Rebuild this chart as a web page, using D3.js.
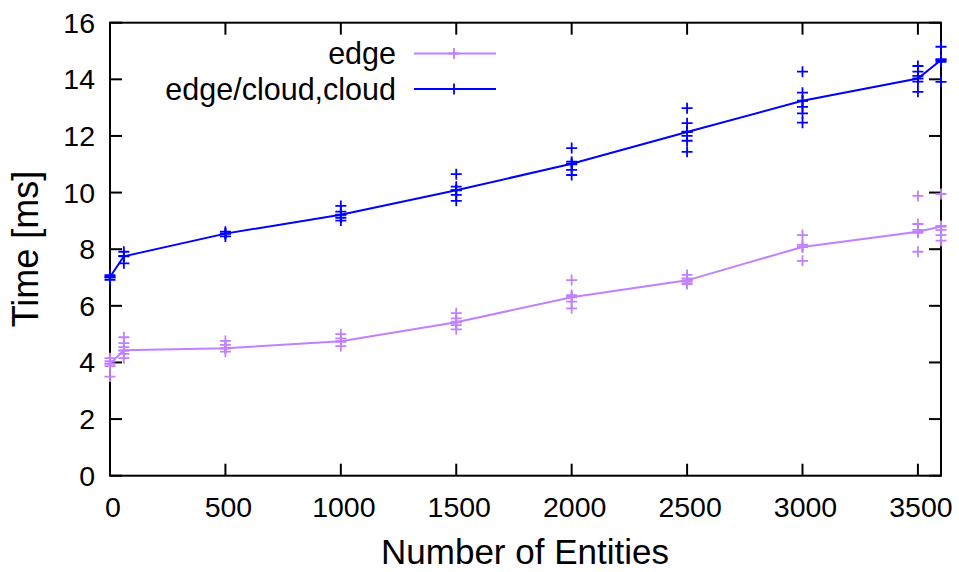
<!DOCTYPE html>
<html>
<head>
    <meta charset="utf-8">
    <title>Time vs Number of Entities</title>
    <script type="text/javascript" src="https://cdn.jsdelivr.net/npm/d3@7"></script>

    <style type="text/css">
        html, body {
            margin: 0;
            background: #fff;
        }

        svg text {
            font-family: "Liberation Sans", Arial, sans-serif;
            fill: #000;
        }

        .frame {
            fill: none;
            stroke: #000;
            stroke-width: 2;
        }

        .tick-mark {
            stroke: #000;
            stroke-width: 2;
        }
    </style>
</head>

<body>

<svg></svg>

<script type="text/javascript">
    // number of entities
    var entities = [0, 60, 500, 1000, 1500, 2000, 2500, 3000, 3500, 3600];

    // averaged run time [ms], one per entity count
    var edgeMean = [3.95, 4.43, 4.5, 4.75, 5.42, 6.3, 6.9, 8.08, 8.62, 8.8];
    var cloudMean = [7.02, 7.75, 8.55, 9.22, 10.08, 11.02, 12.14, 13.24, 14.03, 14.68];

    // individual runs, same order as entities
    var edgeRuns = [
        [4.15, 4.05, 3.97, 3.87, 3.5],
        [4.89, 4.68, 4.54, 4.42, 4.3, 4.15],
        [4.76, 4.62, 4.5, 4.38],
        [5.0, 4.85, 4.73, 4.58],
        [5.74, 5.56, 5.44, 5.32, 5.17],
        [6.91, 6.38, 6.32, 6.15, 5.91],
        [7.09, 6.97, 6.85, 6.77],
        [8.5, 8.15, 8.07, 7.59],
        [9.88, 8.89, 8.68, 8.58, 7.91],
        [9.95, 8.82, 8.68, 8.5, 8.3]
    ];
    var cloudRuns = [
        [7.08, 7.0, 6.92],
        [7.91, 7.76, 7.5],
        [8.62, 8.55, 8.45],
        [9.53, 9.33, 9.21, 9.11, 9.01],
        [10.65, 10.21, 10.09, 9.92, 9.71],
        [11.57, 11.09, 11.0, 10.8, 10.62],
        [12.98, 12.45, 12.15, 12.0, 11.83, 11.44],
        [14.27, 13.53, 13.25, 13.03, 12.8, 12.47],
        [14.47, 14.27, 14.12, 13.92, 13.56],
        [15.15, 14.71, 14.62, 13.91]
    ];

    var xTicks = [0, 500, 1000, 1500, 2000, 2500, 3000, 3500];
    var yTicks = [0, 2, 4, 6, 8, 10, 12, 14, 16];

    var series = [
        {name: "edge", color: "#c080ff", mean: edgeMean, runs: edgeRuns},
        {name: "edge/cloud,cloud", color: "#0000ff", mean: cloudMean, runs: cloudRuns}
    ];

    var w = 959, h = 572;
    var plotLeft = 110, plotRight = 941, plotTop = 22.7, plotBottom = 475.7;
    var tickLen = 12;

    var svg = d3.select("svg")
                .attr("width", w)
                .attr("height", h);

    var x = d3.scaleLinear().domain([0, 3600]).range([plotLeft, plotRight]);
    var y = d3.scaleLinear().domain([0, 16]).range([plotBottom, plotTop]);

    // ticks, mirrored on all four sides
    var ticks = svg.append("g");
    xTicks.forEach(function (t) {
        ticks.append("line").attr("class", "tick-mark")
            .attr("x1", x(t)).attr("x2", x(t))
            .attr("y1", plotBottom).attr("y2", plotBottom - tickLen);
        ticks.append("line").attr("class", "tick-mark")
            .attr("x1", x(t)).attr("x2", x(t))
            .attr("y1", plotTop).attr("y2", plotTop + tickLen);
        ticks.append("text")
            .attr("x", x(t) + 3)
            .attr("y", 516.5)
            .attr("text-anchor", "middle")
            .style("font-size", "28.5px")
            .text(t);
    });
    yTicks.forEach(function (t) {
        ticks.append("line").attr("class", "tick-mark")
            .attr("x1", plotLeft).attr("x2", plotLeft + tickLen)
            .attr("y1", y(t)).attr("y2", y(t));
        ticks.append("line").attr("class", "tick-mark")
            .attr("x1", plotRight).attr("x2", plotRight - tickLen)
            .attr("y1", y(t)).attr("y2", y(t));
        ticks.append("text")
            .attr("x", 95)
            .attr("y", y(t) + 10)
            .attr("text-anchor", "end")
            .style("font-size", "28.5px")
            .text(t);
    });

    svg.append("rect").attr("class", "frame")
        .attr("x", plotLeft).attr("y", plotTop)
        .attr("width", plotRight - plotLeft).attr("height", plotBottom - plotTop);

    // axis titles
    svg.append("text")
        .attr("x", 525)
        .attr("y", 564)
        .attr("text-anchor", "middle")
        .style("font-size", "35px")
        .text("Number of Entities");

    svg.append("text")
        .attr("transform", "translate(38,249) rotate(-90)")
        .attr("text-anchor", "middle")
        .style("font-size", "36px")
        .text("Time [ms]");

    function plus(g, cx, cy, color) {
        g.append("path")
            .attr("d", "M" + (cx - 5.5) + "," + cy + "H" + (cx + 5.5) + "M" + cx + "," + (cy - 5.5) + "V" + (cy + 5.5))
            .attr("stroke", color)
            .attr("stroke-width", 1.8)
            .attr("fill", "none");
    }

    var line = d3.line()
            .x(function (d) { return x(d[0]); })
            .y(function (d) { return y(d[1]); });

    series.forEach(function (s, k) {
        var g = svg.append("g");

        // individual runs
        s.runs.forEach(function (vals, i) {
            vals.forEach(function (v) {
                plus(g, x(entities[i]), y(v), s.color);
            });
        });

        // mean line with points
        var pts = entities.map(function (e, i) { return [e, s.mean[i]]; });
        g.append("path")
            .datum(pts)
            .attr("d", line)
            .attr("fill", "none")
            .attr("stroke", s.color)
            .attr("stroke-width", 2);
        pts.forEach(function (p) {
            plus(g, x(p[0]), y(p[1]), s.color);
        });

        // legend entry
        var ly = 53.5 + k * 35.5;
        svg.append("text")
            .attr("x", 396)
            .attr("y", ly + 10.5)
            .attr("text-anchor", "end")
            .style("font-size", "30.5px")
            .text(s.name);
        svg.append("line")
            .attr("x1", 414).attr("x2", 496)
            .attr("y1", ly).attr("y2", ly)
            .attr("stroke", s.color)
            .attr("stroke-width", 2);
        plus(svg, 454, ly, s.color);
    });
</script>

</body>

</html>
